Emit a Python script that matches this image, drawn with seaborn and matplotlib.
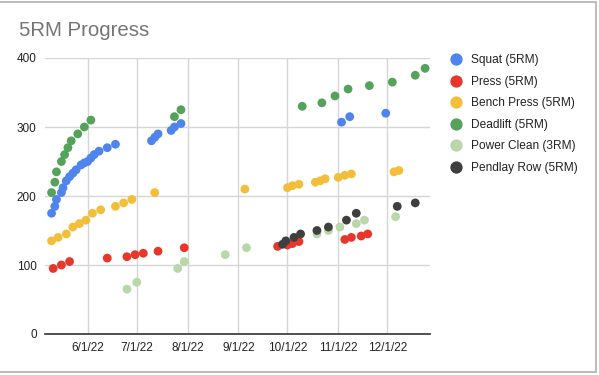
import pandas as pd
import numpy as np
import matplotlib
matplotlib.use("Agg")
import matplotlib.pyplot as plt
import matplotlib.dates as mdates
import seaborn as sns

# --- data (date, weight) ---
squat_dates = ["2022-05-10", "2022-05-12", "2022-05-13", "2022-05-16", "2022-05-17", "2022-05-19",
               "2022-05-21", "2022-05-23", "2022-05-25", "2022-05-28", "2022-05-30", "2022-06-01",
               "2022-06-03", "2022-06-05", "2022-06-08", "2022-06-13", "2022-06-18", "2022-07-10",
               "2022-07-12", "2022-07-14", "2022-07-22", "2022-07-24", "2022-07-28", "2022-11-03",
               "2022-11-08", "2022-11-30"]
squat_5rm = [175, 185, 195, 205, 212, 222, 228, 233, 238, 245, 248, 250, 255, 260, 265,
             270, 275, 280, 285, 290, 295, 300, 305, 307, 315, 320]

press_dates = ["2022-05-11", "2022-05-16", "2022-05-21", "2022-06-13", "2022-06-25", "2022-06-30",
               "2022-07-05", "2022-07-14", "2022-07-30", "2022-09-25", "2022-10-01", "2022-10-04",
               "2022-10-08", "2022-11-05", "2022-11-09", "2022-11-15", "2022-11-19"]
press_5rm = [95, 100, 105, 110, 112, 115, 117, 120, 125, 127, 129, 131, 134, 137, 140, 142, 145]

bench_dates = ["2022-05-10", "2022-05-14", "2022-05-19", "2022-05-23", "2022-05-27", "2022-05-31",
               "2022-06-04", "2022-06-09", "2022-06-18", "2022-06-23", "2022-06-28", "2022-07-12",
               "2022-09-05", "2022-10-01", "2022-10-04", "2022-10-08", "2022-10-18", "2022-10-21",
               "2022-10-24", "2022-11-01", "2022-11-05", "2022-11-09", "2022-12-05", "2022-12-08"]
bench_5rm = [135, 140, 145, 155, 160, 165, 175, 180, 185, 190, 195, 205, 210, 212, 215,
             217, 220, 222, 225, 227, 230, 232, 235, 237]

deadlift_dates = ["2022-05-10", "2022-05-12", "2022-05-13", "2022-05-16", "2022-05-18", "2022-05-20",
                  "2022-05-22", "2022-05-26", "2022-05-30", "2022-06-03", "2022-07-24", "2022-07-28",
                  "2022-10-10", "2022-10-22", "2022-10-30", "2022-11-07", "2022-11-20", "2022-12-04",
                  "2022-12-18", "2022-12-24"]
deadlift_5rm = [205, 220, 235, 250, 260, 270, 280, 290, 300, 310, 315, 325, 330, 335, 345,
                355, 360, 365, 375, 385]

clean_dates = ["2022-06-25", "2022-07-01", "2022-07-26", "2022-07-30", "2022-08-24", "2022-09-06",
               "2022-10-19", "2022-10-26", "2022-11-02", "2022-11-12", "2022-11-17", "2022-12-06"]
clean_3rm = [65, 75, 95, 105, 115, 125, 145, 150, 155, 160, 165, 170]

row_dates = ["2022-09-28", "2022-09-30", "2022-10-05", "2022-10-09", "2022-10-19", "2022-10-26",
             "2022-11-06", "2022-11-12", "2022-12-07", "2022-12-18"]
row_5rm = [130, 135, 140, 145, 150, 155, 165, 175, 185, 190]

series = [
    ("Squat (5RM)", squat_dates, squat_5rm, "#4f83ee"),
    ("Press (5RM)", press_dates, press_5rm, "#e9362b"),
    ("Bench Press (5RM)", bench_dates, bench_5rm, "#f3bf3b"),
    ("Deadlift (5RM)", deadlift_dates, deadlift_5rm, "#55a25a"),
    ("Power Clean (3RM)", clean_dates, clean_3rm, "#b9d7a9"),
    ("Pendlay Row (5RM)", row_dates, row_5rm, "#3f3f3f"),
]

frames = []
for name, d, v, c in series:
    frames.append(pd.DataFrame({"date": pd.to_datetime(d), "weight": v, "lift": name}))
df = pd.concat(frames, ignore_index=True)
palette = {name: c for name, d, v, c in series}

sns.set_style("white")
plt.rcParams['font.family'] = ['Liberation Sans', 'DejaVu Sans']

fig = plt.figure(figsize=(5.99, 3.75), dpi=100)
ax = fig.add_axes([45/599, 1 - 334/375, (430-45)/599, (334-58)/375])

sns.scatterplot(data=df, x="date", y="weight", hue="lift", palette=palette,
                s=40, linewidth=0, alpha=1, ax=ax, legend=True, zorder=3)

ax.set_xlim(pd.Timestamp("2022-05-06"), pd.Timestamp("2022-12-27"))
ax.set_ylim(0, 400)
ax.set_yticks([0, 100, 200, 300, 400])
month_ticks = pd.to_datetime(["2022-06-01", "2022-07-01", "2022-08-01", "2022-09-01",
                              "2022-10-01", "2022-11-01", "2022-12-01"])
ax.set_xticks(month_ticks)
ax.set_xticklabels([f"{t.month}/{t.day}/{t.strftime('%y')}" for t in month_ticks])
ax.grid(True, color="#d6d6d6", linewidth=1)
ax.set_axisbelow(True)
ax.tick_params(length=0, labelsize=8.5, colors="#222222", pad=6)
ax.set_xlabel("")
ax.set_ylabel("")
for sp in ["top", "right", "left"]:
    ax.spines[sp].set_visible(False)
ax.spines["bottom"].set_color("#333333")
ax.spines["bottom"].set_linewidth(1.2)

handles, labels = ax.get_legend_handles_labels()
ax.get_legend().remove()
fig.legend(handles, labels, loc="upper left", bbox_to_anchor=(450.5/599, 1 - 54.5/375),
           frameon=False, fontsize=8.6, markerscale=1.4, handlelength=0.93,
           handletextpad=0.8, labelspacing=0.79, borderpad=0, borderaxespad=0,
           labelcolor="#222222")

fig.text(19/599, 1 - 36/375, "5RM Progress", fontsize=14.7, color="#757575", ha="left", va="baseline")

# screenshot frame
fig.add_artist(plt.Rectangle((-0.01, 3/375), 596/599 + 0.01, 370/375, transform=fig.transFigure,
                             fill=False, edgecolor="#bdbdbd", linewidth=1.5))

fig.savefig("out.png", dpi=100)
